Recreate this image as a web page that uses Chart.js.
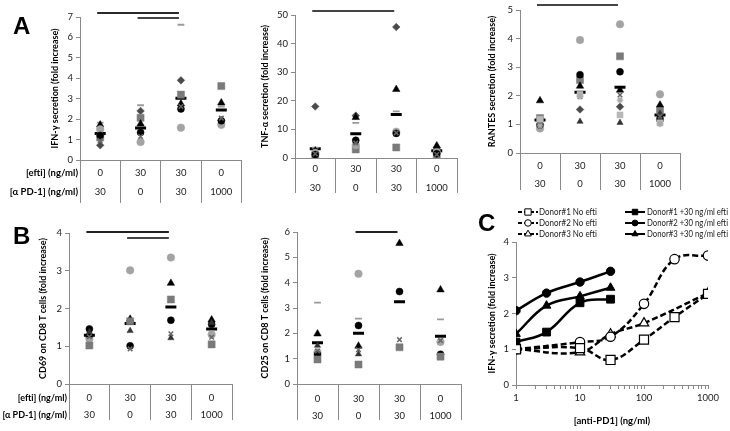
<!DOCTYPE html>
<html>
<head>
<meta charset="utf-8">
<script src="https://cdn.jsdelivr.net/npm/chart.js@4.4.1/dist/chart.umd.min.js"></script>
<style>
body{margin:0;background:#fff;}
#wrap{position:relative;width:730px;height:431px;overflow:hidden;background:#fff;}
#wrap canvas{position:absolute;}
.lbl{position:absolute;font:bold 24px "Liberation Sans",Arial,sans-serif;line-height:24px;color:#000;}
</style>
</head>
<body>
<div id="wrap">
  <canvas id="ifn" width="250" height="210" style="left:0;top:0"></canvas>
  <canvas id="tnf" width="235" height="210" style="left:245px;top:0"></canvas>
  <canvas id="rantes" width="250" height="200" style="left:480px;top:0"></canvas>
  <canvas id="cd69" width="245" height="221" style="left:0;top:210px"></canvas>
  <canvas id="cd25" width="235" height="221" style="left:245px;top:210px"></canvas>
  <canvas id="dose" width="250" height="231" style="left:480px;top:200px"></canvas>
  <div class="lbl" style="left:13px;top:14px">A</div>
  <div class="lbl" style="left:13px;top:224px">B</div>
  <div class="lbl" style="left:478px;top:211px">C</div>
</div>
<script>
// table under the scatter panels
const efti = ['0', '30', '30', '0'];
const antiPd1 = ['30', '0', '30', '1000'];
const groups = efti.map((e, i) => [e, antiPd1[i]]);

// A: IFN-gamma
const ifnMarkers = ['cross', 'blackCircle', 'lightCircle', 'triangle', 'square', 'diamond', 'dash'];
const ifnValues = [
  [0.95, 1.15, 2.62, 2.05],
  [1.2, 1.35, 2.5, 1.92],
  [1.5, 0.88, 1.58, 1.72],
  [1.72, 1.77, 2.75, 2.8],
  [1.1, 2.07, 3.2, 3.62],
  [0.72, 2.4, 3.9, 1.95],
  [1.83, 2.68, 6.62, 2.62]
];
const ifnMean = [1.3, 1.57, 3.02, 2.45];

// A: TNF-alpha
const tnfMarkers = ['cross', 'blackCircle', 'lightCircle', 'square', 'triangle', 'diamond', 'dash'];
const tnfValues = [
  [1.5, 5.2, 8.8, 1.2],
  [1.2, 6.2, 8.6, 1.5],
  [1.8, 4.5, 9.2, 2.0],
  [0.8, 3.0, 3.7, 0.9],
  [2.5, 14.2, 24.0, 4.3],
  [18.0, 14.8, 45.8, 3.5],
  [3.6, 12.3, 16.3, 2.8]
];
const tnfMean = [3.2, 8.5, 15.2, 2.5];

// A: RANTES
const rantesMarkers = ['lightCross', 'lightSquare', 'diamond', 'cross', 'triangle2', 'triangle', 'blackCircle', 'square', 'lightCircle'];
const rantesValues = [
  [0.95, 1.98, 1.85, 1.02],
  [1.18, 2.05, 1.33, 1.05],
  [1.0, 1.52, 1.62, 1.12],
  [1.05, 1.97, 2.03, 1.28],
  [1.1, 1.1, 1.06, 1.38],
  [1.83, 2.34, 2.2, 1.68],
  [0.98, 2.74, 2.84, 1.2],
  [1.22, 2.55, 3.38, 1.48],
  [0.86, 3.95, 4.5, 2.05]
];
const rantesMean = [1.15, 2.12, 2.3, 1.33];

// B: CD69
const cd69Markers = ['cross', 'triangle2', 'blackCircle', 'square', 'triangle', 'lightCircle'];
const cd69Values = [
  [1.25, 0.93, 1.33, 1.24],
  [1.38, 1.41, 1.22, 1.62],
  [1.46, 1.01, 1.69, 1.58],
  [1.02, 1.66, 2.24, 1.05],
  [1.3, 1.72, 2.67, 1.7],
  [1.2, 3.01, 3.35, 1.31]
];
const cd69Mean = [1.29, 1.6, 2.04, 1.46];

// B: CD25
const cd25Markers = ['cross', 'triangle2', 'square', 'blackCircle', 'lightCircle', 'triangle', 'dash'];
const cd25Values = [
  [1.3, 1.35, 1.75, 1.72],
  [1.52, 1.18, null, null],
  [0.97, 0.77, 1.45, 1.08],
  [1.15, 2.31, 3.65, 1.17],
  [1.25, 4.35, null, 1.66],
  [1.98, 1.5, 5.55, 3.72],
  [3.21, 2.58, null, 2.55]
];
const cd25Mean = [1.63, 2.0, 3.25, 1.88];

// C: dose response
const doseNoEfti = [1, 10, 30, 100, 300, 1000];
const doseEfti = [1, 3, 10, 30];
const donor1NoEfti = [1.0, 1.03, 0.7, 1.27, 1.9, 2.55];
const donor2NoEfti = [1.0, 1.2, 1.35, 2.27, 3.52, 3.62];
const donor3NoEfti = [1.0, 0.92, 1.42, 1.73, null, 2.57];
const donor1Efti = [1.2, 1.48, 2.3, 2.4];
const donor2Efti = [2.08, 2.57, 2.88, 3.18];
const donor3Efti = [1.43, 2.22, 2.48, 2.72];
const logTicks = [1, 2, 3, 4, 5, 6, 7, 8, 9, 10, 20, 30, 40, 50, 60, 70, 80, 90, 100, 200, 300, 400, 500, 600, 700, 800, 900, 1000];

Chart.defaults.font.family = 'Lato, "Liberation Sans", sans-serif';
Chart.defaults.color = '#1a1a1a';
const axisGrey = '#8a8a8a';

const markerStyle = {
  diamond:     {style: 'rectRot', r: 3.8, color: '#4a4a4a'},
  square:      {style: 'rect', r: 5, color: '#7a7a7a'},
  lightSquare: {style: 'rect', r: 4.3, color: '#b8b8b8'},
  triangle:    {style: 'triangle', r: 4.3, color: '#000'},
  triangle2:   {style: 'triangle', r: 3.6, color: '#333'},
  lightCircle: {style: 'circle', r: 3.8, color: '#a3a3a3'},
  blackCircle: {style: 'circle', r: 3.5, color: '#000'},
  cross:       {style: 'crossRot', r: 3.2, color: '#666', w: 1.5},
  lightCross:  {style: 'star', r: 3.3, color: '#aaa', w: 1.2},
  dash:        {style: 'line', r: 3.4, color: '#9a9a9a', w: 1.8}
};

// significance bars + table row titles
const panelExtras = {
  id: 'panelExtras',
  afterDraw(chart, args, opts) {
    const {ctx, chartArea, scales: {x}} = chart;
    ctx.save();
    (opts.sig || []).forEach(s => {
      ctx.strokeStyle = s.color || '#333';
      ctx.lineWidth = 2;
      ctx.beginPath();
      ctx.moveTo(x.getPixelForValue(s.from) - 3, s.y);
      ctx.lineTo(x.getPixelForValue(s.to) - 2, s.y);
      ctx.stroke();
    });
    if (opts.rows) {
      ctx.font = 'bold ' + opts.rows.size + 'px Lato, "Liberation Sans", sans-serif';
      ctx.fillStyle = '#000';
      ctx.textAlign = 'right';
      ctx.textBaseline = 'middle';
      ctx.fillText('[efti] (ng/ml)', chartArea.left - 2, chartArea.bottom + opts.rows.gap);
      ctx.fillText('[\u03b1 PD-1] (ng/ml)', chartArea.left - 2, chartArea.bottom + opts.rows.gap + opts.rows.lh);
    }
    ctx.restore();
  }
};

function categoryPanel(id, p) {
  const ds = p.markers.map((m, i) => {
    const s = markerStyle[m];
    return {
      data: p.values[i], showLine: false,
      pointStyle: s.style, pointRadius: s.r,
      pointBackgroundColor: s.color, pointBorderColor: s.color,
      pointBorderWidth: s.w || 0.5
    };
  });
  ds.push({data: p.mean, showLine: false, pointStyle: 'line', pointRadius: 5.5,
           pointBorderWidth: 3, pointBorderColor: '#000', pointBackgroundColor: '#000'});
  return new Chart(document.getElementById(id), {
    type: 'line',
    data: {labels: groups, datasets: ds},
    options: {
      responsive: false, animation: false, events: [],
      layout: {padding: {left: 0, top: p.top, right: p.right, bottom: 0}},
      plugins: {legend: {display: false}, tooltip: {enabled: false},
                panelExtras: {sig: p.sig, rows: p.rows}},
      scales: {
        x: {
          type: 'category', offset: true,
          grid: {offset: true, drawOnChartArea: false, tickLength: p.depth, color: axisGrey},
          border: {color: axisGrey},
          ticks: {autoSkip: false, maxRotation: 0, padding: p.gap - p.lh / 2 - p.depth,
                  font: {size: 9.5, lineHeight: p.lh + 'px'}},
          afterFit: s => { s.height = p.xh; }
        },
        y: {
          min: 0, max: p.max,
          ticks: {stepSize: p.step, padding: 3, font: {size: 9.5}},
          grid: {drawOnChartArea: false, tickLength: 4, color: axisGrey},
          border: {color: axisGrey},
          title: {display: true, text: p.title, color: '#000',
                  font: {size: 9, weight: 'bold'}, padding: {top: p.titleX - 5.4, bottom: 0}},
          afterFit: s => { s.width = p.yw; }
        }
      }
    },
    plugins: [panelExtras]
  });
}

categoryPanel('ifn', {
  markers: ifnMarkers, values: ifnValues, mean: ifnMean,
  title: 'IFN-\u03b3 secretion (fold increase)', max: 7, step: 1,
  top: 17, right: 7, yw: 80, xh: 50, depth: 43, gap: 13, lh: 19, titleX: 55,
  sig: [{from: 0, to: 2, y: 13, color: '#2a2a2a'}, {from: 1, to: 2, y: 18, color: '#444'}],
  rows: {size: 9.5, gap: 13, lh: 19}
});
categoryPanel('tnf', {
  markers: tnfMarkers, values: tnfValues, mean: tnfMean,
  title: 'TNF-\u03b1 secretion (fold increase)', max: 50, step: 5,
  top: 15, right: 23, yw: 50, xh: 52, depth: 35, gap: 11, lh: 18.5, titleX: 20,
  sig: [{from: 0, to: 2, y: 11, color: '#444'}]
});
categoryPanel('rantes', {
  markers: rantesMarkers, values: rantesValues, mean: rantesMean,
  title: 'RANTES secretion (fold increase)', max: 5, step: 1,
  top: 10, right: 50, yw: 40, xh: 47, depth: 37, gap: 13, lh: 17.5, titleX: 12,
  sig: [{from: 0, to: 2, y: 5, color: '#444'}]
});
categoryPanel('cd69', {
  markers: cd69Markers, values: cd69Values, mean: cd69Mean,
  title: 'CD69 on CD8 T cells (fold increase)', max: 4, step: 1,
  top: 23, right: 13, yw: 69, xh: 47, depth: 36, gap: 14, lh: 17, titleX: 43,
  sig: [{from: 0, to: 2, y: 22, color: '#222'}, {from: 1, to: 2, y: 28, color: '#444'}],
  rows: {size: 9, gap: 14, lh: 17}
});
categoryPanel('cd25', {
  markers: cd25Markers, values: cd25Values, mean: cd25Mean,
  title: 'CD25 on CD8 T cells (fold increase)', max: 6, step: 1,
  top: 22, right: 19, yw: 52, xh: 47, depth: 36, gap: 15, lh: 16.5, titleX: 20,
  sig: [{from: 1, to: 2, y: 22, color: '#222'}]
});

// panel C
function pts(xs, ys) { return xs.map((x, i) => ({x, y: ys[i]})); }
function doseSet(label, xs, ys, style, r, dashed) {
  return {
    label, data: pts(xs, ys), spanGaps: true, tension: 0.4,
    borderColor: '#000', borderWidth: 2.5, borderDash: dashed ? [6, 3] : [],
    pointStyle: style, pointRadius: r, pointBorderColor: '#000', pointBorderWidth: dashed ? 1.2 : 1,
    pointBackgroundColor: dashed ? '#fff' : '#000'
  };
}

const doseLegend = {
  id: 'doseLegend',
  afterDraw(chart) {
    const {ctx} = chart;
    const cols = [{x0: 38, tx: 59, w: 58}, {x0: 145, tx: 167, w: 81}];
    const rowsY = [12, 23, 34];
    ctx.save();
    chart.data.datasets.forEach((d, i) => {
      const col = cols[i < 3 ? 0 : 1], y = rowsY[i % 3];
      ctx.strokeStyle = '#000';
      ctx.lineWidth = 2;
      ctx.setLineDash(d.borderDash.length ? [4, 2] : []);
      ctx.beginPath();
      ctx.moveTo(col.x0, y);
      ctx.lineTo(col.x0 + 20, y);
      ctx.stroke();
      ctx.setLineDash([]);
      ctx.fillStyle = d.pointBackgroundColor;
      ctx.lineWidth = 1;
      Chart.helpers.drawPoint(ctx, {pointStyle: d.pointStyle, radius: d.pointRadius * 0.7,
        rotation: 0, borderWidth: 1}, col.x0 + 10, y);
      ctx.fillStyle = '#1a1a1a';
      ctx.font = '9px Lato, "Liberation Sans", sans-serif';
      ctx.textAlign = 'left';
      ctx.textBaseline = 'middle';
      ctx.fillText(d.label, col.tx, y, col.w);
    });
    ctx.restore();
  }
};

new Chart(document.getElementById('dose'), {
  type: 'line',
  data: {datasets: [
    doseSet('Donor#1 No efti', doseNoEfti, donor1NoEfti, 'rect', 6.4, true),
    doseSet('Donor#2 No efti', doseNoEfti, donor2NoEfti, 'circle', 4.7, true),
    doseSet('Donor#3 No efti', doseNoEfti, donor3NoEfti, 'triangle', 5.5, true),
    doseSet('Donor#1 +30 ng/ml efti', doseEfti, donor1Efti, 'rect', 5.5, false),
    doseSet('Donor#2 +30 ng/ml efti', doseEfti, donor2Efti, 'circle', 4.2, false),
    doseSet('Donor#3 +30 ng/ml efti', doseEfti, donor3Efti, 'triangle', 5, false)
  ]},
  options: {
    responsive: false, animation: false, events: [],
    layout: {padding: {left: 0, top: 42, right: 22, bottom: 0}},
    plugins: {legend: {display: false}, tooltip: {enabled: false}},
    scales: {
      x: {
        type: 'logarithmic', min: 1, max: 1000,
        afterBuildTicks: s => { s.ticks = logTicks.map(v => ({value: v})); },
        ticks: {autoSkip: false, maxRotation: 0, padding: 3, font: {size: 9.5},
                callback: v => ([1, 10, 100, 1000].includes(v) ? String(v) : '')},
        grid: {drawOnChartArea: false, tickLength: 4, color: axisGrey},
        border: {color: axisGrey},
        title: {display: true, text: '[anti-PD1] (ng/ml)', color: '#000',
                font: {size: 9.5, weight: 'bold'}, padding: {top: 0, bottom: 4.3}},
        afterFit: s => { s.height = 46; }
      },
      y: {
        min: 0, max: 4,
        ticks: {stepSize: 1, padding: 3, font: {size: 9.5}},
        grid: {drawOnChartArea: false, tickLength: 4, color: axisGrey},
        border: {color: axisGrey},
        title: {display: true, text: 'IFN-\u03b3 secretion (fold increase)', color: '#000',
                font: {size: 9, weight: 'bold'}, padding: {top: 6.6, bottom: 0}},
        afterFit: s => { s.width = 36; }
      }
    }
  },
  plugins: [doseLegend]
});
</script>
</body>
</html>
